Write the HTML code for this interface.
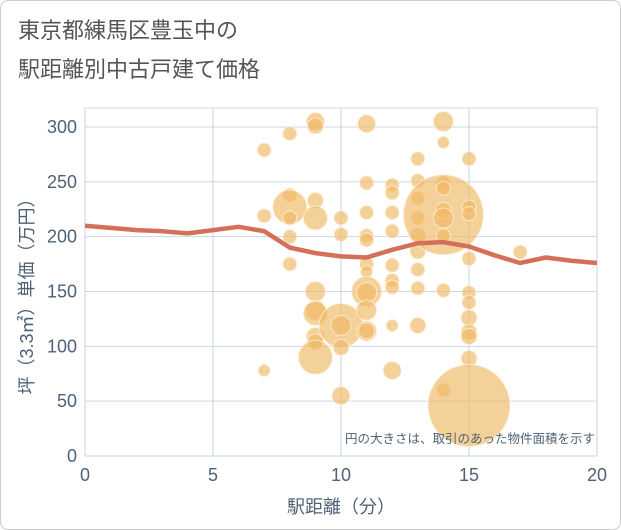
<!DOCTYPE html>
<html><head><meta charset="utf-8"><style>
body{margin:0;background:#fff;font-family:"Liberation Sans","Noto Sans CJK JP",sans-serif}
#wrap{position:relative;width:619px;height:528px;border:1px solid #ccc;border-radius:8px;background:#fff}
.t{position:absolute;left:17px;color:#555;font-size:22px}
</style></head><body>
<div id="wrap">
<div class="t" style="top:12px">東京都練馬区豊玉中の</div>
<div class="t" style="top:51px">駅距離別中古戸建て価格</div>
<svg id="c" width="621" height="530" style="position:absolute;left:-1px;top:-1px"></svg>
</div>
<script>
const xTicks=[0,5,10,15,20];
const yTicks=[0,50,100,150,200,250,300];
const bubbleX=[7,7,7,8,8,8,8,8,8,9,9,9,9,9,9,9,9,9,9,10,10,10,10,10,10,11,11,11,11,11,11,11,11,11,11,11,11,12,12,12,12,12,12,12,12,12,13,13,13,13,13,13,13,13,13,14,14,14,14,14,14,14,14,14,14,15,15,15,15,15,15,15,15,15,15,15,17];
const bubbleY=[279,219,78,294,238,200,175,227,217,305,301,233,217,150,133,130,109,104,90,217,202,119,119,99,55,303,249,222,201,197,175,168,150,149,133,114,114,247,240,222,205,174,160,154,119,78,271,251,235,217,201,187,170,153,119,305,286,249,220,244,224,217,201,151,60,271,227,221,180,149,140,126,113,109,89,46,186];
const bubbleSize=[7,7,6,7,7,7,7,17,7,9,8,8,12,10,10,12,9,8,17,7,7,22,10,8,9,9,7,7,7,7,7,6,15,10,10,10,8,7,7,7,7,7,7,7,6,9,7,7,7,7,8,8,7,7,8,10,6,7,40,7,8,10,7,7,7,7,7,7,7,7,7,8,8,8,8,41,7];
const lineX=[0,1,2,3,4,5,6,7,8,9,10,11,12,13,14,15,16,17,18,19,20];
const lineY=[210,208,206,205,203,206,209,205,190,185,182,181,188,194,195,191,183,176,181,178,176];
const L=85,R=597,T=108,B=456;
const sx=v=>L+(v-0)/20*(R-L);
const sy=v=>B-v/300*(B-127);
const svg=document.getElementById('c');const NS='http://www.w3.org/2000/svg';
function mk(t,a,p){const e=document.createElementNS(NS,t);for(const k in a)e.setAttribute(k,a[k]);(p||svg).appendChild(e);return e;}
let g=mk('g',{});


mk('rect',{x:L,y:T,width:R-L,height:B-T,fill:'none',stroke:'#d6dde8'},g);
xTicks.forEach(v=>{mk('line',{x1:sx(v),x2:sx(v),y1:T,y2:B,stroke:'#c9d6e6'},g);
 const t=mk('text',{x:sx(v),y:B+25,'text-anchor':'middle','font-size':18,fill:'#4d6278'});t.textContent=v;
 
 });
yTicks.forEach(v=>{mk('line',{x1:L,x2:R,y1:sy(v),y2:sy(v),stroke:'#c9d6e6'},g);
 const t=mk('text',{x:L-8,y:sy(v)+6,'text-anchor':'end','font-size':18,fill:'#4d6278'});t.textContent=v;
 
 });
let bg=mk('g',{});


bubbleX.forEach((x,i)=>{const c=mk('circle',{cx:sx(x),cy:sy(bubbleY[i]),r:bubbleSize[i],fill:'rgba(240,185,100,0.65)',stroke:'rgba(255,240,220,0.8)','stroke-width':1},bg);
 
 });
const p=mk('polyline',{points:lineX.map((x,i)=>sx(x)+','+sy(lineY[i])).join(' '),fill:'none',stroke:'#d4705a','stroke-width':4.5,'stroke-linejoin':'round'});


let n=mk('text',{x:595,y:443,'text-anchor':'end','font-size':12.5,fill:'#4d6278'});n.textContent='円の大きさは、取引のあった物件面積を示す';


let xl=mk('text',{x:(L+R)/2,y:513,'text-anchor':'middle','font-size':18,fill:'#4d6278'});xl.textContent='駅距離（分）';


let yl=mk('text',{x:0,y:0,'text-anchor':'middle','font-size':18,fill:'#4d6278',transform:'translate(33,'+((T+B)/2+10)+') rotate(-90)'});yl.textContent='坪（3.3㎡）単価（万円）';


</script>
</body></html>
